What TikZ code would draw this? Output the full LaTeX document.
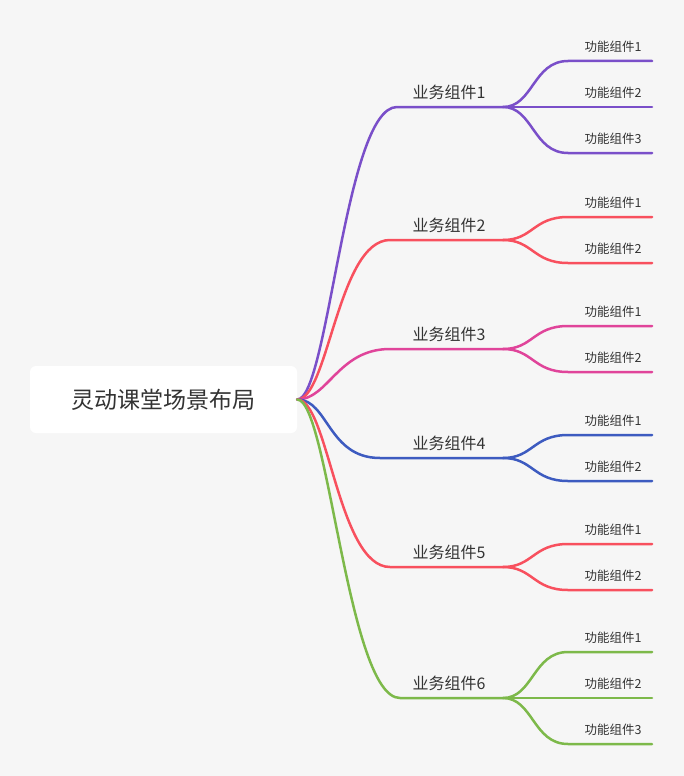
\documentclass[tikz,border=0pt]{standalone}
\usepackage{fontspec}
\usepackage{xcolor}
\usepackage{tikz}
\newfontfamily\cjk{Noto Sans CJK SC}
\definecolor{bgc}{HTML}{F6F6F6}
\definecolor{txt}{HTML}{333333}
% branch colours
\definecolor{c1}{HTML}{7A4FC9}
\definecolor{c2}{HTML}{F8505E}
\definecolor{c3}{HTML}{E0449A}
\definecolor{c4}{HTML}{3D5BC0}
\definecolor{c5}{HTML}{F8505E}
\definecolor{c6}{HTML}{7DB94A}

\begin{document}
\begin{tikzpicture}[x=1pt, y=-1pt,
    edge/.style={line width=2.5pt, line cap=round},
    biz/.style={font=\cjk\fontsize{16}{18}\selectfont, text=txt, inner sep=0pt},
    func/.style={font=\cjk\fontsize{12.5}{15}\selectfont, text=txt, inner sep=0pt}]
    % background
    \fill[bgc] (0,0) rectangle (684,776);
    \useasboundingbox (0,0) rectangle (684,776);

    % root
    \node[fill=white, rounded corners=6pt, minimum width=267pt, minimum height=67pt,
          font=\cjk\fontsize{23}{28}\selectfont, text=txt] (root) at (163.5,399.5) {灵动课堂场景布局};

    % business components
    \foreach \i/\y/\sx in {1/107/397, 2/240/390, 3/349/390, 4/458/380, 5/567/390, 6/698/400} {
        \coordinate (b\i-a) at (\sx,\y);
        \coordinate (b\i-b) at (503,\y);
        \draw[edge, c\i] (root.east) .. controls +(31,0) and +(-52,0) .. (b\i-a) -- (b\i-b);
        \node[biz] (b\i) at (449,\y-15) {业务组件\i};
    }

    % function components
    \foreach \i/\d/\n in {1/-46/1, 1/0/2, 1/46/3, 2/-23/1, 2/23/2, 3/-23/1, 3/23/2,
                          4/-23/1, 4/23/2, 5/-23/1, 5/23/2, 6/-46/1, 6/0/2, 6/46/3} {
        \path (b\i-b) ++(65,\d) coordinate (f\i-\n-a) ++(84,0) coordinate (f\i-\n-b);
        \draw[edge, c\i] (b\i-b) .. controls +(30,0) and +(-35,0) .. (f\i-\n-a) -- (f\i-\n-b);
        \node[func] (f\i-\n) at ([shift={(45,-14)}]f\i-\n-a) {功能组件\n};
    }
\end{tikzpicture}
\end{document}
